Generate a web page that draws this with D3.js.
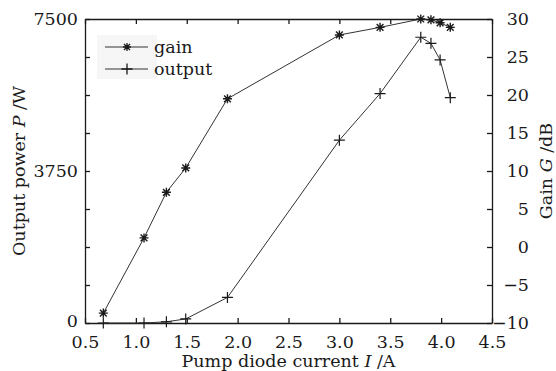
<!DOCTYPE html>
<html>
<head>
<meta charset="utf-8">
<script src="https://cdn.jsdelivr.net/npm/d3@7"></script>
<style>
  body { margin: 0; background: #fff; }
  svg text { font-family: "DejaVu Serif", "Liberation Serif", serif; }
</style>
</head>
<body>
<svg id="drawing_region"></svg>
<script>
// pump current (A)
const gainCurrent = [0.68, 1.08, 1.30, 1.49, 1.90, 3.00, 3.40, 3.80, 3.90, 3.99, 4.09]
const gainDb = [-8.7, 1.2, 7.2, 10.4, 19.5, 27.9, 28.9, 30.0, 29.9, 29.5, 28.9]
const outputCurrent = [0.68, 1.08, 1.30, 1.49, 1.90, 3.00, 3.40, 3.80, 3.90, 3.99, 4.09]
const outputPower = [0, 0, 30, 100, 630, 4510, 5660, 7050, 6900, 6490, 5560]

const xTicks = [0.5, 1.0, 1.5, 2.0, 2.5, 3.0, 3.5, 4.0, 4.5]
const leftTicks = [0, 937.5, 1875, 2812.5, 3750, 4687.5, 5625, 6562.5, 7500]
const leftLabels = [0, 3750, 7500]
const rightTicks = [-10, -5, 0, 5, 10, 15, 20, 25, 30]

const W = 556, H = 371
const margin = {top: 19, left: 85, right: 64, bottom: 48}
const iw = W - margin.left - margin.right
const ih = H - margin.top - margin.bottom

const svg = d3.select('#drawing_region').attr('width', W).attr('height', H)
const chart = svg.append('g').attr('transform', `translate(${margin.left},${margin.top})`)

const xscale = d3.scaleLinear().domain([0.5, 4.5]).range([0, iw])
const yleft = d3.scaleLinear().domain([0, 7500]).range([ih, 0])
const yright = d3.scaleLinear().domain([-10, 30]).range([ih, 0])

const ink = '#1a1a1a'
const fs = 17.5
const font = '"DejaVu Serif", "Liberation Serif", serif'

// legend background
chart.append('rect')
    .attr('x', 12).attr('y', 16).attr('width', 60).attr('height', 44)
    .attr('fill', '#f6f6f6')

// axes
const xaxis = d3.axisBottom(xscale).tickValues(xTicks).tickFormat(d3.format('.1f'))
    .tickSizeInner(-5).tickSizeOuter(0).tickPadding(13)
const topaxis = d3.axisTop(xscale).tickValues(xTicks).tickFormat('')
    .tickSizeInner(-5).tickSizeOuter(0)
const laxis = d3.axisLeft(yleft).tickValues(leftTicks)
    .tickFormat(d => leftLabels.includes(d) ? d : '')
    .tickSizeInner(-5).tickSizeOuter(0).tickPadding(7)
const raxis = d3.axisRight(yright).tickValues(rightTicks)
    .tickSizeInner(-5).tickSizeOuter(0).tickPadding(8)

const gx = chart.append('g').attr('transform', `translate(0,${ih})`).call(xaxis)
const gt = chart.append('g').call(topaxis)
const gl = chart.append('g').call(laxis)
const gr = chart.append('g').attr('transform', `translate(${iw},0)`).call(raxis)
gr.selectAll('.tick text').attr('text-anchor', 'end').attr('x', 37)
// keep the "0" clear of the "0.5" below it
gl.selectAll('.tick text').filter(d => d === 0).attr('dy', '0.2em')

;[gx, gt, gl, gr].forEach(g => {
    g.attr('font-family', font).attr('font-size', fs)
    g.selectAll('path, line').attr('stroke', ink).attr('stroke-width', 1.3)
    g.selectAll('text').attr('fill', ink).attr('font-family', font)
})

// lines
const gainData = gainCurrent.map((c, i) => ({x: c, y: gainDb[i]}))
const outData = outputCurrent.map((c, i) => ({x: c, y: outputPower[i]}))

chart.append('path').datum(gainData)
    .attr('fill', 'none').attr('stroke', '#333').attr('stroke-width', 1)
    .attr('d', d3.line().x(d => xscale(d.x)).y(d => yright(d.y)))
chart.append('path').datum(outData)
    .attr('fill', 'none').attr('stroke', '#333').attr('stroke-width', 1)
    .attr('d', d3.line().x(d => xscale(d.x)).y(d => yleft(d.y)))

// marker shapes
const plusPath = r => `M${-r},0H${r}M0,${-r}V${r}`
const starPath = r => {
    const s = r * 0.75
    return `M${-r},0H${r}M0,${-r}V${r}M${-s},${-s}L${s},${s}M${-s},${s}L${s},${-s}`
}

chart.selectAll('.gainpt').data(gainData).enter().append('path')
    .attr('class', 'gainpt')
    .attr('transform', d => `translate(${xscale(d.x)},${yright(d.y)})`)
    .attr('d', starPath(4.5))
    .attr('stroke', ink).attr('stroke-width', 1.4).attr('fill', 'none')
chart.selectAll('.outpt').data(outData).enter().append('path')
    .attr('class', 'outpt')
    .attr('transform', d => `translate(${xscale(d.x)},${yleft(d.y)})`)
    .attr('d', plusPath(5.5))
    .attr('stroke', ink).attr('stroke-width', 1.2).attr('fill', 'none')

// legend
const legend = chart.append('g').attr('transform', 'translate(20,28)')
const items = [{label: 'gain', shape: starPath(4)}, {label: 'output', shape: plusPath(5.5)}]
items.forEach((it, i) => {
    const g = legend.append('g').attr('transform', `translate(0,${i * 22})`)
    g.append('line').attr('x1', 0).attr('x2', 43).attr('stroke', '#333').attr('stroke-width', 1)
    g.append('path').attr('transform', 'translate(22,0)').attr('d', it.shape)
        .attr('stroke', ink).attr('stroke-width', 1.3).attr('fill', 'none')
    g.append('text').attr('x', 49).attr('y', 6).attr('font-size', fs).attr('fill', ink).text(it.label)
})

// axis titles
const xt = svg.append('text')
    .attr('x', margin.left + iw / 2).attr('y', 367)
    .attr('text-anchor', 'middle').attr('font-size', fs).attr('fill', ink)
xt.append('tspan').text('Pump diode current ')
xt.append('tspan').attr('font-style', 'italic').text('I')
xt.append('tspan').text(' /A')

const yt = svg.append('text')
    .attr('transform', `translate(25,${margin.top + ih / 2}) rotate(-90)`)
    .attr('text-anchor', 'middle').attr('font-size', fs).attr('fill', ink)
yt.append('tspan').text('Output power ')
yt.append('tspan').attr('font-style', 'italic').text('P')
yt.append('tspan').text(' /W')

const rt = svg.append('text')
    .attr('transform', `translate(552,${margin.top + ih / 2}) rotate(-90)`)
    .attr('text-anchor', 'middle').attr('font-size', fs).attr('fill', ink)
rt.append('tspan').text('Gain ')
rt.append('tspan').attr('font-style', 'italic').text('G')
rt.append('tspan').text(' /dB')
</script>
</body>
</html>
